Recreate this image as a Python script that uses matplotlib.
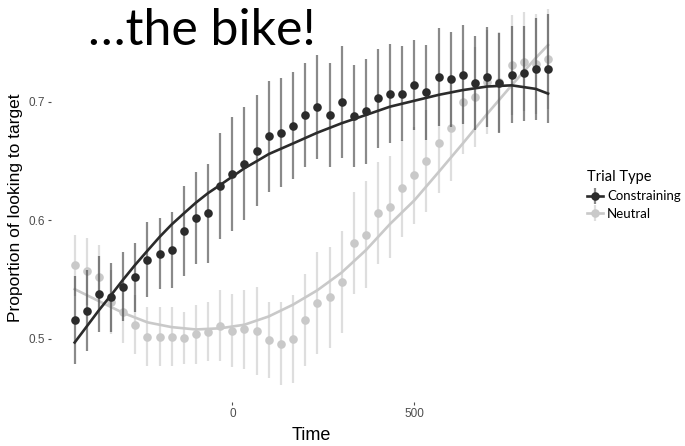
import numpy as np
import matplotlib
matplotlib.use("Agg")
import matplotlib.pyplot as plt
from matplotlib.lines import Line2D

# time bins (ms)
times = [-433, -400, -367, -333, -300, -267, -233, -200, -167, -133,
         -100, -67, -33, 0, 33, 67, 100, 133, 167, 200,
         233, 267, 300, 333, 367, 400, 433, 467, 500, 533,
         567, 600, 633, 667, 700, 733, 767, 800, 833, 867]

# Constraining trials
constr_mean = [0.516, 0.524, 0.538, 0.535, 0.544, 0.552, 0.567, 0.572, 0.575, 0.591,
               0.602, 0.606, 0.629, 0.639, 0.648, 0.659, 0.671, 0.674, 0.680, 0.689,
               0.696, 0.689, 0.700, 0.688, 0.692, 0.703, 0.707, 0.707, 0.714, 0.708,
               0.721, 0.719, 0.723, 0.716, 0.721, 0.716, 0.723, 0.724, 0.728, 0.728]
constr_se = [0.037, 0.034, 0.032, 0.029, 0.029, 0.029, 0.032, 0.030, 0.032, 0.038,
             0.039, 0.042, 0.045, 0.048, 0.048, 0.047, 0.047, 0.046, 0.045, 0.044,
             0.044, 0.044, 0.047, 0.043, 0.044, 0.042, 0.042, 0.040, 0.038, 0.040,
             0.041, 0.040, 0.042, 0.040, 0.042, 0.042, 0.041, 0.040, 0.043, 0.046]

# Neutral trials
neutral_mean = [0.562, 0.557, 0.552, 0.531, 0.523, 0.512, 0.502, 0.502, 0.502, 0.501,
                0.504, 0.506, 0.511, 0.507, 0.508, 0.507, 0.499, 0.496, 0.500, 0.516,
                0.530, 0.535, 0.548, 0.581, 0.588, 0.606, 0.611, 0.627, 0.638, 0.650,
                0.665, 0.678, 0.700, 0.704, 0.717, 0.717, 0.731, 0.734, 0.732, 0.736]
neutral_se = [0.026, 0.028, 0.027, 0.027, 0.026, 0.025, 0.025, 0.025, 0.025, 0.022,
              0.025, 0.025, 0.030, 0.031, 0.033, 0.037, 0.032, 0.035, 0.037, 0.039,
              0.043, 0.043, 0.043, 0.043, 0.045, 0.043, 0.043, 0.041, 0.041, 0.043,
              0.042, 0.045, 0.044, 0.042, 0.044, 0.042, 0.042, 0.042, 0.042, 0.042]

# fitted curves
constr_fit_t = [-433, -400, -367, -333, -300, -267, -233, -200, -167, -133, -100, -67,
                -33, 0, 33, 67, 100, 167, 233, 300, 367, 433, 500, 567, 633, 700,
                767, 833, 867]
constr_fit = [0.497, 0.5105, 0.524, 0.537, 0.550, 0.5625, 0.5745, 0.586, 0.5965, 0.606,
              0.615, 0.623, 0.630, 0.637, 0.644, 0.650, 0.656, 0.665, 0.674, 0.682,
              0.689, 0.696, 0.701, 0.706, 0.710, 0.713, 0.714, 0.711, 0.707]
neutral_fit_t = [-433, -367, -300, -233, -167, -100, -33, 33, 100, 167, 233, 300,
                 367, 433, 500, 567, 633, 700, 767, 833, 867]
neutral_fit = [0.542, 0.532, 0.522, 0.514, 0.510, 0.508, 0.509, 0.512, 0.519, 0.529,
               0.541, 0.556, 0.575, 0.597, 0.617, 0.641, 0.665, 0.690, 0.714, 0.737,
               0.748]

x_ticks = [0, 500]
y_ticks = [0.5, 0.6, 0.7]

dark = '#2b2b2b'
light = '#c9c9c9'

fig = plt.figure(figsize=(6.85, 4.46), dpi=100)
ax = fig.add_axes([51/685, 44/446, 520/685, 402/446])

t = np.array(times)


def draw_series(mean, se, fit_t, fit, col, bar_alpha, z):
    mean = np.array(mean)
    se = np.array(se)
    ax.vlines(t, mean - se, mean + se, color=col, alpha=bar_alpha, lw=1.6, zorder=z)
    ax.plot(fit_t, fit, color=col, lw=1.9, zorder=z + 1, solid_joinstyle='round')
    ax.plot(t, mean, 'o', color=col, ms=6.2, mec='none', zorder=z + 2)


draw_series(neutral_mean, neutral_se, neutral_fit_t, neutral_fit, light, 0.6, 2)
draw_series(constr_mean, constr_se, constr_fit_t, constr_fit, dark, 0.55, 5)

ax.set_xlim(-498, 930)
ax.set_ylim(0.4468, 0.786)
ax.set_xticks(x_ticks)
ax.set_yticks(y_ticks)
ax.set_xticklabels([str(v) for v in x_ticks])
ax.set_yticklabels([f'{v:.1f}' for v in y_ticks])
for s in ax.spines.values():
    s.set_visible(False)
ax.tick_params(colors='#4d4d4d', labelsize=8.5, length=2.5, width=0.8, pad=2,
               labelfontfamily='Liberation Sans')
ax.set_xlabel('Time', fontsize=13, family='Liberation Sans', labelpad=5)
ax.set_ylabel('Proportion of looking to target', fontsize=12.5,
              family='Liberation Sans', labelpad=3)
ax.yaxis.set_label_coords(-0.054, 0.483)

# legend
h_c = (Line2D([], [], color=dark, lw=1.9),
       Line2D([], [], color=dark, alpha=0.55, marker='|', ms=11, mew=1.6, ls='none'),
       Line2D([], [], color=dark, marker='o', ms=6.2, mec='none', ls='none'))
h_n = (Line2D([], [], color=light, lw=1.9),
       Line2D([], [], color=light, alpha=0.6, marker='|', ms=11, mew=1.6, ls='none'),
       Line2D([], [], color=light, marker='o', ms=6.2, mec='none', ls='none'))
leg = fig.legend([h_c, h_n], ['Constraining', 'Neutral'], title='Trial Type',
                 loc='upper left', bbox_to_anchor=(578/685, 1 - 161/446),
                 frameon=False, handlelength=1.2, handletextpad=0.3,
                 labelspacing=0.45, borderpad=0.2,
                 prop={'family': 'Lato', 'size': 9.5},
                 title_fontproperties={'family': 'Lato', 'size': 10.5})
leg._legend_box.align = 'left'

fig.text(88/685, 1 - 45/446, '\u2026the bike!', fontsize=36, family='Lato',
         va='baseline', ha='left', color='black')

fig.savefig('out.png', dpi=100)
